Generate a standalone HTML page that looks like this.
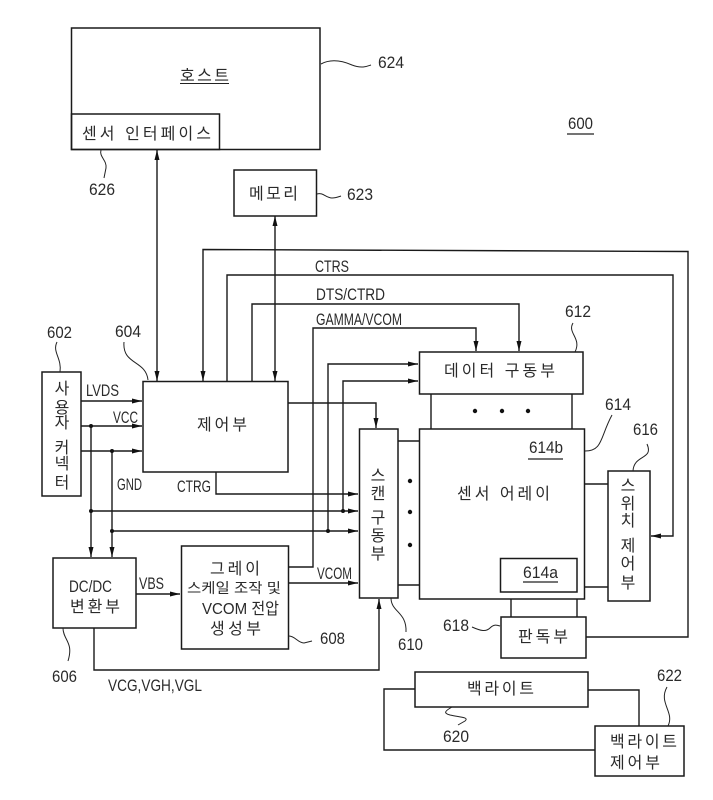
<!DOCTYPE html>
<html lang="ko"><head><meta charset="utf-8"><style>
html,body{margin:0;padding:0;background:#fff}
svg{display:block}
text{font-family:"Liberation Sans","Noto Sans CJK KR",sans-serif;fill:#2a2a2a}
.n{font-size:17px}
.l{font-size:17px}
.k{font-size:16px;font-family:"Liberation Sans","Noto Sans CJK KR",sans-serif}
.v{font-size:16px;text-anchor:middle}
.s{fill:none;stroke:#222;stroke-width:1}
.b{fill:none;stroke:#1a1a1a;stroke-width:1.5}
.w{fill:none;stroke:#1a1a1a;stroke-width:1.4}
</style></head><body>
<svg width="713" height="800" viewBox="0 0 713 800" xmlns="http://www.w3.org/2000/svg">
<defs>
<marker id="a" markerUnits="userSpaceOnUse" markerWidth="12" markerHeight="8" refX="11" refY="4" orient="auto-start-reverse"><path d="M1 1.500L11 4L1 6.500Z" fill="#111"/></marker>
</defs>
<rect width="713" height="800" fill="#fff"/>
<!-- boxes -->
<g class="b">
<rect x="71.5" y="28" width="248.5" height="121.5"/>
<rect x="71.5" y="114" width="148" height="35.5"/>
<rect x="234" y="170" width="82.5" height="46"/>
<rect x="143" y="381.5" width="145" height="90.5"/>
<rect x="42" y="372" width="39" height="124"/>
<rect x="53" y="558" width="83" height="70"/>
<rect x="181.500" y="546" width="107" height="103"/>
<rect x="419.500" y="352" width="163.500" height="42"/>
<rect x="419.500" y="429" width="165" height="170"/>
<rect x="359.500" y="429" width="38.500" height="169"/>
<rect x="608" y="471" width="42" height="130"/>
<rect x="500.500" y="558.500" width="76.500" height="33.500"/>
<rect x="501" y="617" width="85" height="41"/>
<rect x="415" y="672" width="173" height="35"/>
<rect x="595" y="726" width="89" height="50"/>
</g>
<!-- connectors -->
<g class="w">
<path d="M157 150V381" marker-start="url(#a)" marker-end="url(#a)"/>
<path d="M275 216V381" marker-start="url(#a)" marker-end="url(#a)"/>
<path d="M586 637H688V251.500L203 249.500V381" marker-end="url(#a)"/>
<path d="M227 381V275H673V536H651" marker-end="url(#a)"/>
<path d="M252 381V304H519V351" marker-end="url(#a)"/>
<path d="M288 567H313V328H476V351" marker-end="url(#a)"/>
<path d="M81 401H142" marker-end="url(#a)"/>
<path d="M81 426H142" marker-end="url(#a)"/>
<path d="M81 451H142" marker-end="url(#a)"/>
<path d="M91 426V557" marker-end="url(#a)"/>
<path d="M112 451V557" marker-end="url(#a)"/>
<path d="M91 511H358" marker-end="url(#a)"/>
<path d="M112 531H358" marker-end="url(#a)"/>
<path d="M328 531V364H418" marker-end="url(#a)"/>
<path d="M343 511V381H418" marker-end="url(#a)"/>
<path d="M216 472V494H358" marker-end="url(#a)"/>
<path d="M288 403H376V428" marker-end="url(#a)"/>
<path d="M288 583H358" marker-end="url(#a)"/>
<path d="M136 594H180" marker-end="url(#a)"/>
<path d="M94 628V670H379V599" marker-end="url(#a)"/>
<path d="M431 394V429M572 394V429"/>
<path d="M398 441H419M398 585H419"/>
<path d="M584 484H608M584 587H608"/>
<path d="M511 599V617M577 599V617"/>
<path d="M415 689H384V750H595"/>
<path d="M588 690H639V726"/>
</g>
<!-- junction and ellipsis dots -->
<g fill="#111">
<circle cx="91" cy="426" r="2"/><circle cx="112" cy="451" r="2"/>
<circle cx="91" cy="511" r="2"/><circle cx="112" cy="531" r="2"/>
<circle cx="343" cy="511" r="2"/><circle cx="328" cy="531" r="2"/>
<circle cx="475" cy="411" r="2.200"/><circle cx="502" cy="411" r="2.200"/><circle cx="528" cy="411" r="2.200"/>
<circle cx="410" cy="481" r="2.200"/><circle cx="410" cy="512" r="2.200"/><circle cx="410" cy="545" r="2.200"/>
</g>
<!-- leader squiggles -->
<g class="s">
<path d="M321 64C332 58 345 62 352 65C362 69 368 66 371 65"/>
<path d="M317 194C323 192 326 198 332 198C336 198 338 197 341 196"/>
<path d="M101 150C99 157 107 160 106 168L104 178"/>
<path d="M57 342C52 352 62 358 60 372"/>
<path d="M124 342C122 365 146 360 148 380"/>
<path d="M573 323C567 333 582 338 575 352"/>
<path d="M612 415C600 437 603 451 585 451"/>
<path d="M647 444C654 460 634 454 633 471"/>
<path d="M472 627C481 631 486 632 490 628C494 624 497 625 500 626"/>
<path d="M391 598C391 612 407 612 406 632"/>
<path d="M452 707C445 711 443 713 450 715C458 717 470 717 465 721L458 725"/>
<path d="M667 687C658 703 675 712 668 726"/>
<path d="M63 628C63 640 74 642 68 661"/>
<path d="M289 636C295 636 298 643 304 643L312 641"/>
</g>
<!-- underlines -->
<g stroke="#222" stroke-width="1.300">
<path d="M567 134H594"/><path d="M528 459H563"/><path d="M523 582H558"/>
<path d="M180 83.500H229" stroke-width="1"/>
</g>
<!-- reference numerals -->
<g class="n">
<text x="568" y="129" textLength="25" lengthAdjust="spacingAndGlyphs">600</text>
<text x="378" y="68" textLength="26" lengthAdjust="spacingAndGlyphs">624</text>
<text x="347" y="200" textLength="26" lengthAdjust="spacingAndGlyphs">623</text>
<text x="89" y="195" textLength="26" lengthAdjust="spacingAndGlyphs">626</text>
<text x="47" y="338" textLength="25" lengthAdjust="spacingAndGlyphs">602</text>
<text x="115" y="337" textLength="26" lengthAdjust="spacingAndGlyphs">604</text>
<text x="565" y="317" textLength="26" lengthAdjust="spacingAndGlyphs">612</text>
<text x="605" y="410" textLength="26" lengthAdjust="spacingAndGlyphs">614</text>
<text x="633" y="435" textLength="25" lengthAdjust="spacingAndGlyphs">616</text>
<text x="529" y="453" textLength="34" lengthAdjust="spacingAndGlyphs">614b</text>
<text x="523" y="578" textLength="35" lengthAdjust="spacingAndGlyphs">614a</text>
<text x="443" y="631" textLength="26" lengthAdjust="spacingAndGlyphs">618</text>
<text x="398" y="650" textLength="25" lengthAdjust="spacingAndGlyphs">610</text>
<text x="443" y="742" textLength="26" lengthAdjust="spacingAndGlyphs">620</text>
<text x="657" y="681" textLength="25" lengthAdjust="spacingAndGlyphs">622</text>
<text x="52" y="682" textLength="25" lengthAdjust="spacingAndGlyphs">606</text>
<text x="320" y="644" textLength="25" lengthAdjust="spacingAndGlyphs">608</text>
</g>
<!-- signal labels -->
<g class="l">
<text x="86" y="396" textLength="33" lengthAdjust="spacingAndGlyphs">LVDS</text>
<text x="113" y="423" textLength="25" lengthAdjust="spacingAndGlyphs">VCC</text>
<text x="117" y="490" textLength="25" lengthAdjust="spacingAndGlyphs">GND</text>
<text x="177" y="492" textLength="34" lengthAdjust="spacingAndGlyphs">CTRG</text>
<text x="315" y="272" textLength="34" lengthAdjust="spacingAndGlyphs">CTRS</text>
<text x="316" y="300" textLength="69" lengthAdjust="spacingAndGlyphs">DTS/CTRD</text>
<text x="316" y="325" textLength="86" lengthAdjust="spacingAndGlyphs">GAMMA/VCOM</text>
<text x="139" y="589" textLength="25" lengthAdjust="spacingAndGlyphs">VBS</text>
<text x="317" y="579" textLength="35" lengthAdjust="spacingAndGlyphs">VCOM</text>
<text x="108" y="691" textLength="94" lengthAdjust="spacingAndGlyphs">VCG,VGH,VGL</text>
</g>
<!-- Korean block labels -->
<g class="k">
<text x="180" y="81" textLength="49" lengthAdjust="spacing">호스트</text>
<text x="82" y="139" textLength="129" lengthAdjust="spacing">센서 인터페이스</text>
<text x="249" y="199" textLength="49" lengthAdjust="spacing">메모리</text>
<text x="197" y="430" textLength="50" lengthAdjust="spacing">제어부</text>
<text x="69" y="592" textLength="43" lengthAdjust="spacingAndGlyphs" font-size="17">DC/DC</text>
<text x="70" y="612" textLength="50" lengthAdjust="spacing">변환부</text>
<text x="210" y="574" textLength="50" lengthAdjust="spacing">그레이</text>
<text x="187" y="593" textLength="94" lengthAdjust="spacingAndGlyphs" font-size="14">스케일 조작 및</text>
<text x="202" y="614" textLength="77" lengthAdjust="spacingAndGlyphs">VCOM 전압</text>
<text x="210" y="634" textLength="51" lengthAdjust="spacing">생성부</text>
<text x="444" y="376" textLength="111" lengthAdjust="spacing">데이터 구동부</text>
<text x="457" y="499" textLength="93" lengthAdjust="spacing">센서 어레이</text>
<text x="518" y="642" textLength="50" lengthAdjust="spacing">판독부</text>
<text x="467" y="694" textLength="67" lengthAdjust="spacing">백라이트</text>
<text x="610" y="747" textLength="67" lengthAdjust="spacing">백라이트</text>
<text x="610" y="768" textLength="50" lengthAdjust="spacing">제어부</text>
</g>
<!-- vertical labels -->
<g class="v">
<text x="62" y="394">사</text><text x="62" y="413">용</text><text x="62" y="428">자</text>
<text x="62" y="453">커</text><text x="62" y="469">넥</text><text x="62" y="488">터</text>
<text x="378" y="481">스</text><text x="378" y="499">캔</text><text x="378" y="523">구</text><text x="378" y="541">동</text><text x="378" y="559">부</text>
<text x="628" y="491">스</text><text x="628" y="509">위</text><text x="628" y="526">치</text><text x="628" y="551">제</text><text x="628" y="569">어</text><text x="628" y="588">부</text>
</g>
</svg>
</body></html>
